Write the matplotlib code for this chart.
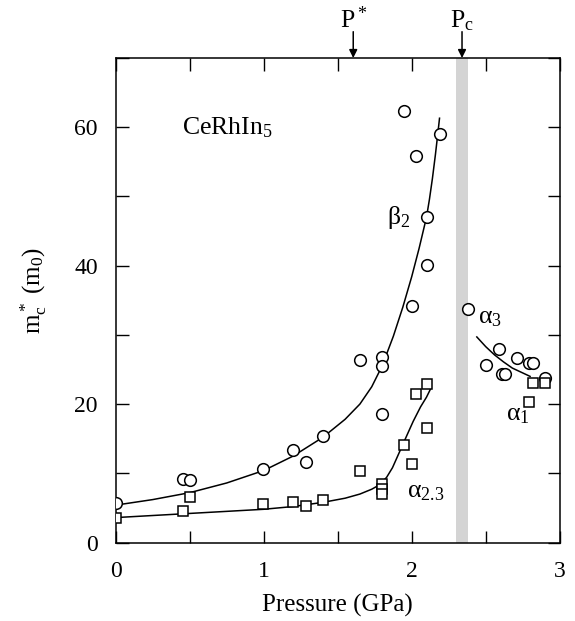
import matplotlib
matplotlib.use("Agg")
import matplotlib.pyplot as plt
from matplotlib.ticker import MultipleLocator, FixedLocator

plt.rcParams['font.family'] = ['Liberation Serif', 'DejaVu Serif']
plt.rcParams['mathtext.fontset'] = 'custom'
plt.rcParams['mathtext.rm'] = 'Liberation Serif'
plt.rcParams['mathtext.it'] = 'Liberation Serif:italic'
plt.rcParams['mathtext.default'] = 'regular'

# --- data: circles (beta2 branch, low pressure) ---
circ_p = [0.0, 0.453, 0.502, 0.997, 1.2, 1.286, 1.40, 1.65, 1.80, 1.80, 1.80,
          2.0, 1.948, 2.19, 2.03, 2.10, 2.10]
circ_m = [5.7, 9.2, 9.0, 10.6, 13.4, 11.6, 15.4, 26.3, 26.8, 25.5, 18.6,
          34.2, 62.4, 59.0, 55.8, 47.0, 40.1]
# circles high pressure (alpha3)
circ2_p = [2.383, 2.59, 2.50, 2.608, 2.63, 2.71, 2.79, 2.82, 2.90]
circ2_m = [33.7, 27.9, 25.6, 24.3, 24.3, 26.6, 26.0, 25.9, 23.7]
# squares (alpha2,3 low pressure)
sq_p = [0.0, 0.453, 0.502, 0.997, 1.2, 1.286, 1.40, 1.65, 1.80, 1.80, 1.80,
        2.0, 1.95, 2.03, 2.10, 2.10]
sq_m = [3.6, 4.5, 6.6, 5.56, 5.8, 5.27, 6.1, 10.4, 8.5, 7.8, 7.0,
        11.3, 14.1, 21.4, 22.9, 16.6]
# squares high pressure (alpha1)
sq2_p = [2.82, 2.90, 2.79]
sq2_m = [23.1, 23.1, 20.3]

# guide curves
curve_b_p = [0.0, 0.25, 0.5, 0.75, 1.0, 1.2, 1.4, 1.55, 1.65, 1.73, 1.80, 1.876,
             1.94, 2.0, 2.05, 2.10, 2.12, 2.14, 2.16, 2.175, 2.188]
curve_b_m = [5.4, 6.2, 7.2, 8.6, 10.4, 12.5, 15.2, 17.8, 20.0, 22.5, 25.5, 29.8,
             34.0, 38.4, 42.5, 47.0, 49.6, 52.6, 56.0, 58.8, 61.3]
curve_a_p = [0.0, 0.25, 0.5, 0.75, 1.0, 1.2, 1.4, 1.55, 1.65, 1.73, 1.78, 1.83,
             1.87, 1.92, 1.97, 2.01, 2.06, 2.10, 2.13]
curve_a_m = [3.6, 3.9, 4.2, 4.5, 4.8, 5.2, 5.8, 6.4, 7.0, 7.7, 8.3, 9.4,
             10.8, 13.2, 15.6, 17.5, 19.6, 21.0, 22.3]
curve_r_p = [2.44, 2.50, 2.56, 2.62, 2.68, 2.74, 2.80]
curve_r_m = [29.7, 28.3, 27.1, 26.1, 25.2, 24.6, 24.0]

band_lo, band_hi = 2.30, 2.38
pstar_x, pc_x = 1.605, 2.34

fig = plt.figure(figsize=(5.75, 6.21), dpi=100)
ax = fig.add_axes([0.2012, 0.1264, 0.7722, 0.7802])

ax.axvspan(band_lo, band_hi, color='#d4d4d4', lw=0, zorder=0)

lk = dict(color='black', lw=1.1, zorder=2)
ax.plot(curve_b_p, curve_b_m, **lk)
ax.plot(curve_a_p, curve_a_m, **lk)
ax.plot(curve_r_p, curve_r_m, **lk)

mk_c = dict(ls='none', marker='o', ms=8.4, mfc='white', mec='black', mew=1.1, zorder=3)
mk_s = dict(ls='none', marker='s', ms=7.4, mfc='white', mec='black', mew=1.1, zorder=3)
ax.plot(circ_p, circ_m, **mk_c)
ax.plot(circ2_p, circ2_m, **mk_c)
ax.plot(sq_p, sq_m, **mk_s)
ax.plot(sq2_p, sq2_m, **mk_s)

ax.set_xlim(0, 3)
ax.set_ylim(0, 70)
ax.xaxis.set_major_locator(FixedLocator([0, 1, 2, 3]))
ax.xaxis.set_minor_locator(MultipleLocator(0.5))
ax.yaxis.set_major_locator(FixedLocator([0, 20, 40, 60]))
ax.yaxis.set_minor_locator(MultipleLocator(10))
ax.tick_params(which='both', direction='in', top=True, right=True,
               length=9, width=1.0, labelsize=17, pad=13)
for s in ax.spines.values():
    s.set_linewidth(1.1)

ax.set_xlabel('Pressure (GPa)', fontsize=18, labelpad=9)
ax.set_ylabel(r'$\mathregular{m_c^*\ (m_0)}$', fontsize=18)
ax.yaxis.set_label_coords(-0.15, 0.52)

fs = 18.5
ax.text(0.448, 60.0, r'CeRhIn$_5$', fontsize=fs, va='center', ha='left')
ax.text(1.83, 46.9, r'β$_2$', fontsize=fs, va='center', ha='left')
ax.text(1.97, 7.3, r'α$_{2.3}$', fontsize=fs, va='center', ha='left')
ax.text(2.45, 32.4, r'α$_3$', fontsize=fs, va='center', ha='left')
ax.text(2.64, 18.4, r'α$_1$', fontsize=fs, va='center', ha='left')

for xv, lab in [(pstar_x, r'P$^*$'), (pc_x, r'P$_c$')]:
    ax.annotate('', xy=(xv, 70), xytext=(xv, 73.8), annotation_clip=False,
                arrowprops=dict(arrowstyle='-|>', color='black', lw=1.1,
                                mutation_scale=12, shrinkA=0, shrinkB=0))
    ax.text(xv, 74.4, lab, fontsize=fs, ha='center', va='baseline', clip_on=False)

fig.savefig('out.png', dpi=100)
